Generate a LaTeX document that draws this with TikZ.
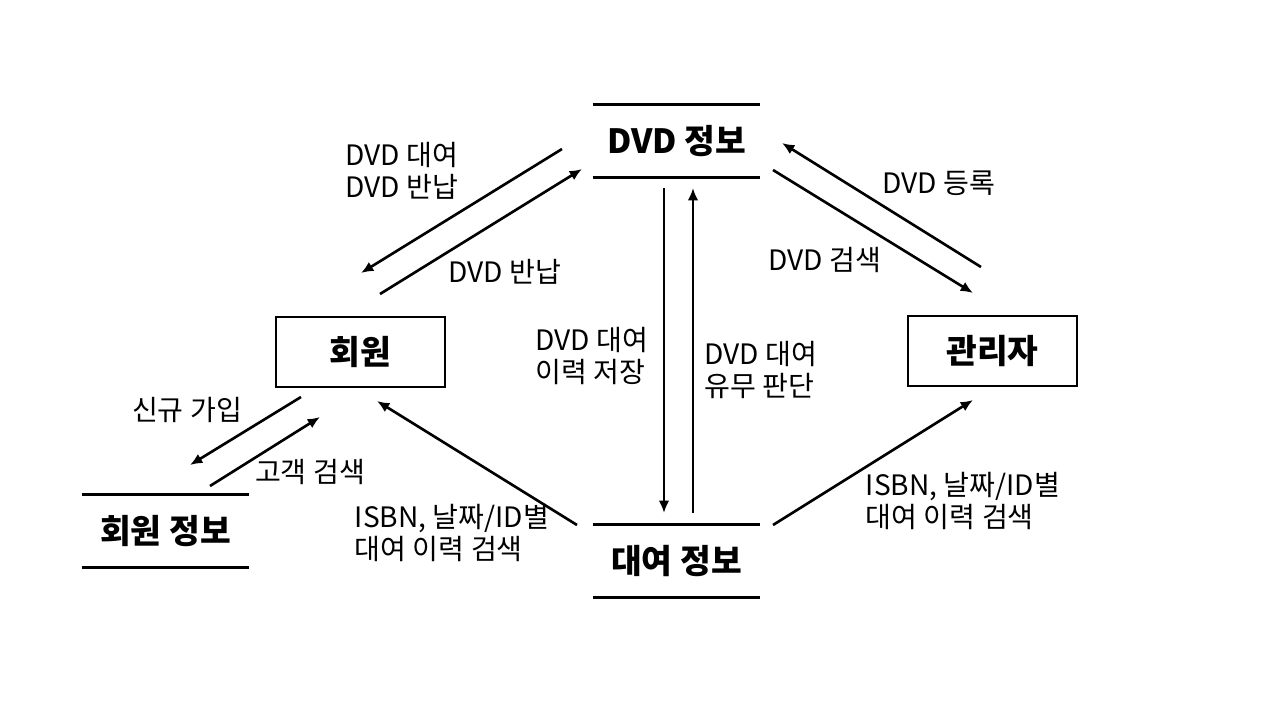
\documentclass[tikz,border=0pt]{standalone}
\usepackage{fontspec}
\setmainfont{Noto Sans CJK KR}
\usetikzlibrary{arrows.meta, positioning}

\tikzset{
    entity/.style={draw, line width=1.6pt, minimum width=3.38cm, minimum height=1.4cm, font=\fontsize{19}{22}\selectfont\bfseries},
    store/.style={minimum width=3.34cm, minimum height=1.44cm, font=\fontsize{19}{22}\selectfont\bfseries},
    flow/.style={line width=1.5pt, -{Latex[length=7pt,width=6pt]}},
    flowtext/.style={align=left, inner sep=0pt, font=\fontsize{16}{18}\selectfont}
}

\begin{document}
\begin{tikzpicture}[x=0.02cm, y=-0.02cm]
    \useasboundingbox (0,0) rectangle (1280,720);

    % Entities
    \node[entity] (member) at (360.5, 352) {회원};
    \node[entity] (admin) at (992.5, 351) {관리자};

    % Data stores
    \node[store] (dvd) at (676.5, 141) {DVD 정보};
    \node[store] (rent) at (676.5, 561) {대여 정보};
    \node[store] (memberinfo) at (165.5, 531) {회원 정보};
    \foreach \s in {dvd, rent, memberinfo} {
        \draw[line width=1.6pt] (\s.north west) -- (\s.north east);
        \draw[line width=1.6pt] (\s.south west) -- (\s.south east);
    }

    % Flow end points
    \coordinate (a1) at (562, 149); \coordinate (a2) at (361, 273);
    \coordinate (b1) at (380, 294); \coordinate (b2) at (582, 169);
    \coordinate (c1) at (773, 170); \coordinate (c2) at (973, 293);
    \coordinate (d1) at (981, 267); \coordinate (d2) at (782, 143);
    \coordinate (e1) at (664, 188); \coordinate (e2) at (664, 513);
    \coordinate (f1) at (693, 513); \coordinate (f2) at (693, 188);
    \coordinate (g1) at (301, 397); \coordinate (g2) at (190, 465);
    \coordinate (h1) at (210, 486); \coordinate (h2) at (320, 417);
    \coordinate (i1) at (577, 525); \coordinate (i2) at (377, 401);
    \coordinate (j1) at (773, 525); \coordinate (j2) at (973, 400);

    % Flows
    \draw[flow] (a1) -- (a2);
    \draw[flow] (b1) -- (b2);
    \draw[flow] (c1) -- (c2);
    \draw[flow] (d1) -- (d2);
    \draw[flow] (e1) -- (e2);
    \draw[flow] (f1) -- (f2);
    \draw[flow] (g1) -- (g2);
    \draw[flow] (h1) -- (h2);
    \draw[flow] (i1) -- (i2);
    \draw[flow] (j1) -- (j2);

    % Flow labels
    \node[flowtext, anchor=west] (la) at (345, 171) {DVD 대여\\DVD 반납};
    \node[flowtext] (lb) at (505, 272) {DVD 반납};
    \node[flowtext] (lc) at (825, 260) {DVD 검색};
    \node[flowtext] (ld) at (939, 183) {DVD 등록};
    \node[flowtext] (le) at (592, 356) {DVD 대여\\이력 저장};
    \node[flowtext] (lf) at (761, 370) {DVD 대여\\유무 판단};
    \node[flowtext] (lg) at (187, 410) {신규 가입};
    \node[flowtext] (lh) at (310, 472) {고객 검색};
    \node[flowtext] (li) at (452, 533) {ISBN, 날짜/ID별\\대여 이력 검색};
    \node[flowtext] (lj) at (963, 501) {ISBN, 날짜/ID별\\대여 이력 검색};
\end{tikzpicture}
\end{document}
